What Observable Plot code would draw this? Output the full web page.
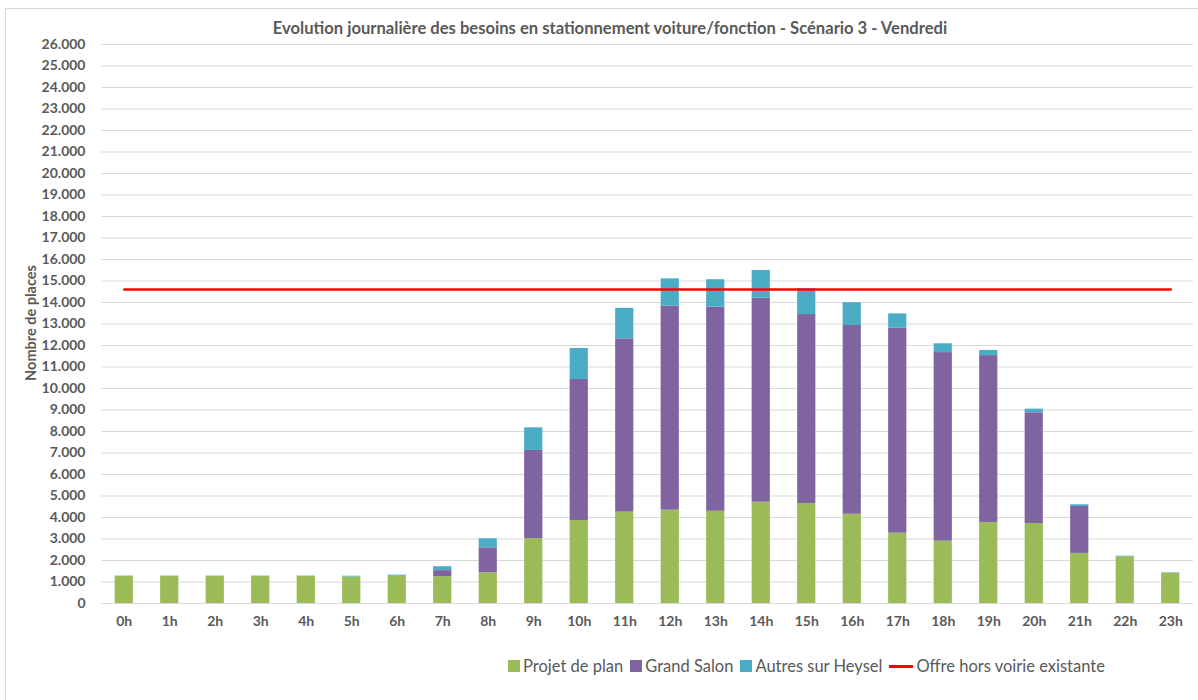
<!DOCTYPE html>
<html>
<head>
<meta charset="utf-8">
<script src="https://cdn.jsdelivr.net/npm/d3@7"></script>
<script src="https://cdn.jsdelivr.net/npm/@observablehq/plot@0.6"></script>
<style>
  html, body { margin: 0; padding: 0; background: #fff; }
  #wrap { position: relative; width: 1198px; height: 700px; overflow: hidden; font-family: Lato, "Open Sans", sans-serif; color: #595959; }
  #frame { position: absolute; left: 5px; top: 8px; width: 1200px; height: 700px; border-left: 1px solid #d9d9d9; border-top: 1px solid #d9d9d9; box-sizing: border-box; }
  #title { position: absolute; left: 0; top: 18px; width: 1220px; text-align: center; font-weight: bold; font-size: 16.6px; }
  #ylabel { position: absolute; left: 30px; top: 323px; transform: translate(-50%, -50%) rotate(-90deg); font-weight: bold; font-size: 14.5px; white-space: nowrap; }
  #legend { position: absolute; left: 508px; top: 656px; display: flex; align-items: center; font-size: 16.5px; white-space: nowrap; }
  .sw { display: inline-block; width: 12px; height: 12px; margin-right: 3px; }
  .ln { display: inline-block; width: 24px; height: 3px; background: #ff0000; margin-right: 3px; }
  .it { display: flex; align-items: center; margin-right: 7px; }
  #chart { position: absolute; left: 0; top: 0; }
</style>
</head>
<body>
<div id="wrap">
  <div id="frame"></div>
  <div id="chart"></div>
  <div id="title">Evolution journalière des besoins en stationnement voiture/fonction - Scénario 3 - Vendredi</div>
  <div id="ylabel">Nombre de places</div>
  <div id="legend"></div>
</div>
<script>
const hours = ["0h","1h","2h","3h","4h","5h","6h","7h","8h","9h","10h","11h","12h","13h","14h","15h","16h","17h","18h","19h","20h","21h","22h","23h"];
const seriesNames = ["Projet de plan", "Grand Salon", "Autres sur Heysel"];
const projetDePlan = [1270,1270,1270,1270,1270,1230,1270,1250,1430,3020,3860,4250,4340,4290,4710,4650,4150,3270,2900,3770,3720,2330,2170,1410];
const grandSalon   = [0,0,0,0,0,0,0,280,1160,4100,6560,8060,9490,9490,9490,8790,8780,9530,8770,7760,5150,2180,0,0];
const autresHeysel = [10,10,10,10,10,40,50,180,420,1050,1440,1420,1270,1280,1290,1200,1060,670,410,240,170,80,30,20];
const offreLabel = "Offre hors voirie existante";
const offreHorsVoirie = 14600;
const yTicks = [0,1000,2000,3000,4000,5000,6000,7000,8000,9000,10000,11000,12000,13000,14000,15000,16000,17000,18000,19000,20000,21000,22000,23000,24000,25000,26000];
const colors = ["#9bbb59", "#8064a2", "#4bacc6"];
const lineColor = "#ff0000";

const seriesValues = [projetDePlan, grandSalon, autresHeysel];
const rows = [];
seriesNames.forEach((s, si) => {
  hours.forEach((h, i) => rows.push({hour: h, series: s, value: seriesValues[si][i]}));
});

const fmt = d => d === 0 ? "0" : d3.format(",")(d).replace(/,/g, ".");

const chart = Plot.plot({
  width: 1198,
  height: 700,
  marginLeft: 101,
  marginRight: 5,
  marginTop: 44,
  marginBottom: 97,
  style: {fontFamily: "Lato, 'Open Sans', sans-serif", fontSize: "14px", fontWeight: "bold", color: "#595959", background: "transparent"},
  x: {domain: hours, paddingInner: 0.6, paddingOuter: 0.3, round: false, label: null, tickSize: 0, tickPadding: 13},
  y: {domain: [0, 26000], ticks: yTicks, tickFormat: fmt, label: null, tickSize: 0, tickPadding: 16},
  color: {domain: seriesNames, range: colors},
  marks: [
    Plot.ruleY(yTicks, {stroke: "#d9d9d9", strokeWidth: 1}),
    Plot.barY(rows, {x: "hour", y: "value", fill: "series", order: seriesNames}),
    Plot.lineY(hours, {x: d => d, y: () => offreHorsVoirie, stroke: lineColor, strokeWidth: 2.5})
  ]
});
document.getElementById("chart").appendChild(chart);

const legend = document.getElementById("legend");
seriesNames.forEach((s, i) => {
  const it = document.createElement("div");
  it.className = "it";
  it.innerHTML = `<span class="sw" style="background:${colors[i]}"></span><span></span>`;
  it.lastChild.textContent = s;
  legend.appendChild(it);
});
const lit = document.createElement("div");
lit.className = "it";
lit.innerHTML = `<span class="ln"></span><span></span>`;
lit.lastChild.textContent = offreLabel;
legend.appendChild(lit);
</script>
</body>
</html>
